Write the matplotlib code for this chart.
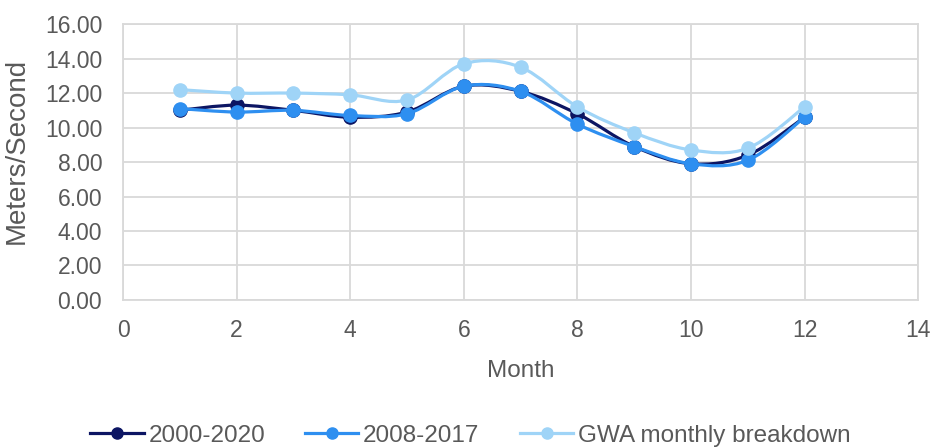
import matplotlib.pyplot as plt
from matplotlib.path import Path
from matplotlib.patches import PathPatch
from matplotlib.lines import Line2D

plt.rcParams['font.family'] = ['Liberation Sans', 'DejaVu Sans']

months = [1, 2, 3, 4, 5, 6, 7, 8, 9, 10, 11, 12]
speed_2000_2020 = [11.0, 11.3, 11.0, 10.6, 10.9, 12.4, 12.1, 10.8, 8.9, 7.9, 8.4, 10.6]
speed_2008_2017 = [11.1, 10.9, 11.0, 10.7, 10.8, 12.4, 12.1, 10.2, 8.9, 7.9, 8.1, 10.6]
speed_gwa = [12.2, 12.0, 12.0, 11.9, 11.6, 13.7, 13.5, 11.2, 9.7, 8.7, 8.8, 11.2]

series_names = ['2000-2020', '2008-2017', 'GWA monthly breakdown']
colors = ['#0c1563', '#2e8ff0', '#9fd4f7']
text_color = '#595959'
grid_color = '#d9d9d9'


def smooth_path(xs, ys, tension=1 / 6):
    # Excel-style smoothed line: Catmull-Rom segments as cubic Bezier curves
    verts = [(xs[0], ys[0])]
    codes = [Path.MOVETO]
    n = len(xs)
    for i in range(n - 1):
        x0, y0 = (xs[i - 1], ys[i - 1]) if i > 0 else (xs[i], ys[i])
        x1, y1 = xs[i], ys[i]
        x2, y2 = xs[i + 1], ys[i + 1]
        x3, y3 = (xs[i + 2], ys[i + 2]) if i + 2 < n else (x2, y2)
        c1 = (x1 + (x2 - x0) * tension, y1 + (y2 - y0) * tension)
        c2 = (x2 - (x3 - x1) * tension, y2 - (y3 - y1) * tension)
        verts += [c1, c2, (x2, y2)]
        codes += [Path.CURVE4] * 3
    return Path(verts, codes)


fig = plt.figure(figsize=(9.35, 4.47), dpi=100)
ax = fig.add_axes([0.1316, 0.329, 0.8504, 0.617])

all_series = [speed_2000_2020, speed_2008_2017, speed_gwa]
# series drawn in order, later ones on top (like Excel)
for z, (values, color) in enumerate(zip(all_series, colors), start=3):
    patch = PathPatch(smooth_path(months, values), facecolor='none',
                      edgecolor=color, linewidth=2.3, zorder=z,
                      capstyle='round', joinstyle='round')
    ax.add_patch(patch)
    ax.plot(months, values, linestyle='none', marker='o', markersize=9.5,
            color=color, zorder=z)

ax.set_xlim(0, 14)
ax.set_ylim(0, 16)
ax.set_xticks(range(0, 15, 2))
ax.set_yticks(range(0, 17, 2))
ax.set_yticklabels([f'{v:.2f}' for v in range(0, 17, 2)])

ax.grid(True, color=grid_color, linewidth=1.3)
ax.set_axisbelow(True)
for spine in ax.spines.values():
    spine.set_color(grid_color)
    spine.set_linewidth(1.3)
ax.tick_params(length=0, labelsize=16.5, colors=text_color, pad=15)
ax.tick_params(axis='x', pad=14)

ax.set_xlabel('Month', fontsize=17.5, color=text_color, labelpad=13)
ax.set_ylabel('Meters/Second', fontsize=20, color=text_color, labelpad=8)
ax.yaxis.set_label_coords(-0.117, 0.54)

# legend entries placed individually, like the Excel legend spacing
legend_x = [0.0963, 0.326, 0.556]
for name, color, lx in zip(series_names, colors, legend_x):
    handle = Line2D([], [], color=color, linewidth=2.3, marker='o', markersize=8)
    fig.legend([handle], [name], loc='center left', bbox_to_anchor=(lx, 0.025),
               frameon=False, fontsize=17.5, labelcolor=text_color,
               handlelength=2.2, handletextpad=0.2, borderpad=0,
               borderaxespad=0)

fig.savefig('out.png', dpi=100)
